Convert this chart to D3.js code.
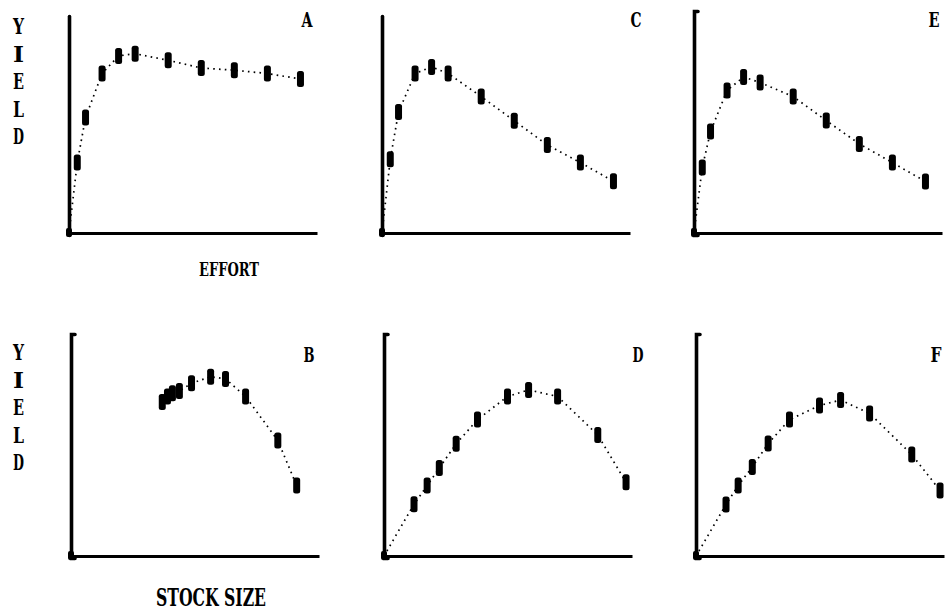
<!DOCTYPE html>
<html>
<head>
<meta charset="utf-8">
<script src="https://cdn.jsdelivr.net/npm/d3@7"></script>
<style>
  html, body { margin: 0; padding: 0; background: #fff; }
  svg { display: block; }
  .lbl { font-family: "DejaVu Serif Condensed", "DejaVu Serif", serif; font-weight: bold; fill: #000; }
</style>
</head>
<body>
<svg id="chart" width="945" height="611"></svg>
<script>
// Fishing effort levels (top row x values)
const effort = [0.5, 1, 2, 3, 4, 6, 8, 10, 12, 14];

// Equilibrium yield at each effort level, one series per model
const yieldA = [32, 52.5, 72.5, 80.5, 81.5, 78.5, 75, 74, 72.5, 70];
const yieldC = [33.5, 55, 72.5, 75.5, 72.5, 62, 51, 40, 32, 23.5];
const yieldE = [29.8, 46.1, 64.8, 70.9, 68.4, 62, 51.1, 40.5, 32, 23.4];

// Stock size reached at each effort level (bottom row x values)
const stockB = [91, 83.4, 70.4, 62.3, 56.3, 48.6, 43.7, 40.9, 38.9, 36.8];
const stockD = [97.6, 86.2, 70, 58.3, 49.8, 37.7, 29.1, 22.3, 17.4, 12.1];
const stockF = [98.4, 87, 70, 58.3, 49.8, 37.7, 29.1, 22.7, 17, 12.1];

const panelLabels = ["A", "C", "E", "B", "D", "F"];
const yLetters = ["Y", "I", "E", "L", "D"];
const xTitleTop = "EFFORT";
const xTitleBottom = "STOCK SIZE";

// ---- layout ----
const svg = d3.select("#chart");
const rows = [
  { originY: 233, topY: 16, lefts: [69, 382, 694], labelY: 27 },
  { originY: 556, topY: 334, lefts: [71, 384, 696], labelY: 362 }
];
const labelOffsets = [238, 254, 240];
const axisW = 248;

const panels = [
  { row: 0, col: 0, label: panelLabels[0], xs: effort, ys: yieldA, xMax: 15, fromOrigin: true, hook: 0, topAdj: 0 },
  { row: 0, col: 1, label: panelLabels[1], xs: effort, ys: yieldC, xMax: 15, fromOrigin: true, hook: 0, topAdj: 0 },
  { row: 0, col: 2, label: panelLabels[2], xs: effort, ys: yieldE, xMax: 15, fromOrigin: true, hook: 4, topAdj: -5 },
  { row: 1, col: 0, label: panelLabels[3], xs: stockB, ys: yieldA, xMax: 100, fromOrigin: false, hook: 4, topAdj: 0 },
  { row: 1, col: 1, label: panelLabels[4], xs: stockD, ys: yieldC, xMax: 100, fromOrigin: true, hook: 4, topAdj: 0 },
  { row: 1, col: 2, label: panelLabels[5], xs: stockF, ys: yieldE, xMax: 100, fromOrigin: true, hook: 4, topAdj: 0 }
];

panels.forEach(p => {
  const r = rows[p.row];
  const left = r.lefts[p.col];
  const x = d3.scaleLinear().domain([0, p.xMax]).range([left, left + axisW]);
  const y = d3.scaleLinear().domain([0, 100]).range([r.originY, r.originY - 220]);
  const g = svg.append("g");

  // vertical axis: plain line with a small hook at its top end
  const topY = r.topY + p.topAdj;
  const yAxisScale = d3.scaleLinear().domain([0, y.invert(topY)]).range([r.originY + 2, topY]);
  const yAxis = d3.axisRight(yAxisScale).tickValues([]).tickSizeOuter(p.hook);
  g.append("g").attr("transform", `translate(${left},0)`).call(yAxis)
    .call(s => s.select(".domain").attr("stroke", "#000").attr("stroke-width", 3.6).attr("fill", "none")
      .attr("stroke-linecap", "round"));

  // horizontal axis
  const xAxis = d3.axisBottom(x).tickValues([]).tickSizeOuter(0);
  g.append("g").attr("transform", `translate(0,${r.originY})`).call(xAxis)
    .call(s => s.select(".domain").attr("stroke", "#000").attr("stroke-width", 3).attr("fill", "none"));

  // heavier blob where the axes meet
  g.append("rect").attr("x", x(0) - 3).attr("y", y(0) - 5).attr("width", 6).attr("height", 9)
    .attr("rx", 2).attr("fill", "#000");

  // dotted connecting line
  let pts = p.xs.map((v, i) => [v, p.ys[i]]);
  pts.sort((a, b) => a[0] - b[0]);
  if (p.fromOrigin) pts = [[0, 0]].concat(pts);
  const line = d3.line().x(d => x(d[0])).y(d => y(d[1]));
  g.append("path").datum(pts).attr("d", line)
    .attr("fill", "none").attr("stroke", "#000").attr("stroke-width", 1.7)
    .attr("stroke-dasharray", "1.6,4.2");

  // markers
  g.selectAll("rect.mk").data(p.xs.map((v, i) => [v, p.ys[i]])).join("rect")
    .attr("class", "mk")
    .attr("x", d => x(d[0]) - 3.5).attr("y", d => y(d[1]) - 8)
    .attr("width", 7).attr("height", 16).attr("rx", 2.5).attr("fill", "#000");

  // panel letter
  g.append("text").attr("class", "lbl")
    .attr("x", left + labelOffsets[p.col]).attr("y", r.labelY)
    .attr("font-size", 21).attr("text-anchor", "middle")
    .attr("textLength", 11).attr("lengthAdjust", "spacingAndGlyphs")
    .text(p.label);
});

// vertical YIELD titles
[34, 360].forEach(y0 => {
  yLetters.forEach((ch, i) => {
    svg.append("text").attr("class", "lbl")
      .attr("x", 13).attr("y", y0 + i * 27.5)
      .attr("font-size", 23)
      .attr("textLength", 11).attr("lengthAdjust", "spacingAndGlyphs")
      .text(ch);
  });
});

// horizontal axis titles
svg.append("text").attr("class", "lbl")
  .attr("x", 199).attr("y", 276).attr("font-size", 19)
  .attr("textLength", 60).attr("lengthAdjust", "spacingAndGlyphs")
  .text(xTitleTop);
svg.append("text").attr("class", "lbl")
  .attr("x", 156).attr("y", 606).attr("font-size", 24)
  .attr("textLength", 110).attr("lengthAdjust", "spacingAndGlyphs")
  .text(xTitleBottom);
</script>
</body>
</html>
